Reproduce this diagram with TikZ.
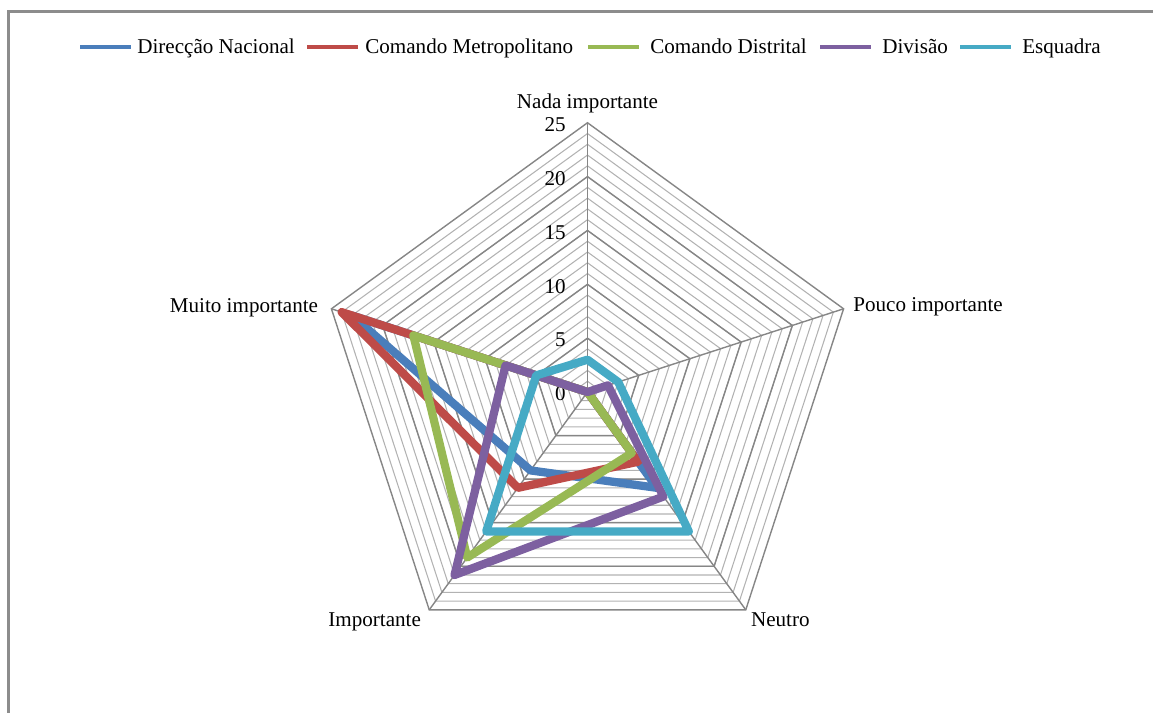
\documentclass[tikz,border=0pt]{standalone}
\usepackage{fontspec}
\setmainfont{Liberation Serif}
\usepackage{tikz}
\usetikzlibrary{calc,positioning}

\definecolor{dirnac}{HTML}{4A7EBB}
\definecolor{cmdmet}{HTML}{BE4B48}
\definecolor{cmddis}{HTML}{98B954}
\definecolor{divis}{HTML}{7D60A0}
\definecolor{esquad}{HTML}{46AAC5}
\definecolor{gridlight}{HTML}{B2B2B2}
\definecolor{griddark}{HTML}{868686}
\definecolor{framegray}{HTML}{8C8C8C}

\begin{document}
\begin{tikzpicture}[x=0.02cm,y=0.02cm,font=\fontsize{12}{14}\selectfont,
  gridthin/.style={draw=gridlight,line width=0.6pt},
  gridthick/.style={draw=griddark,line width=0.8pt},
  serie/.style={line width=4.7pt,line join=round},
  legline/.style={line width=2.3pt},
  legtext/.style={anchor=base west,inner sep=0pt}]
\useasboundingbox (0,-713) rectangle (1153,0);
\draw[framegray,line width=1.7pt] (8.5,-713) |- (1153,-11.5);

% legend
\foreach \x/\tx/\c/\t [count=\n] in {80/137/dirnac/Direcção Nacional,
    307/365/cmdmet/Comando Metropolitano, 588/650/cmddis/Comando Distrital,
    820/882/divis/Divisão, 960/1022/esquad/Esquadra}{
  \draw[legline,\c] (\x,-47) coordinate (leg\n) -- ++(51,0);
  \node[legtext] (legtext\n) at (\tx,-54) {\t};
}

% radar
\def\unit{10.77}
\pgfmathsetmacro\R{25*\unit}
\begin{scope}[shift={(587.5,-392)}]
\coordinate (O) at (0,0);
\coordinate (nada) at (90:\R);
\coordinate (pouco) at (18:\R);
\coordinate (neutro) at (-54:\R);
\coordinate (imp) at (-126:\R);
\coordinate (muito) at (162:\R);

\foreach \k in {1,...,24}{
  \pgfmathsetmacro\r{\k*\unit}
  \draw[gridthin] (90:\r) -- (18:\r) -- (-54:\r) -- (-126:\r) -- (162:\r) -- cycle;
}
\foreach \k in {5,10,...,25}{
  \pgfmathsetmacro\r{\k*\unit}
  \draw[gridthick] (90:\r) -- (18:\r) -- (-54:\r) -- (-126:\r) -- (162:\r) -- cycle;
}
\foreach \p in {nada,pouco,neutro,imp,muito}
  \draw[gridthick] (O) -- (\p);

% scale
\foreach \v in {0,5,...,25}
  \node[anchor=east,inner sep=0pt] at (-21.5,{\v*\unit-2}) {\v};

% axis names
\node[above=5.5pt of nada,inner sep=0pt] {Nada importante};
\node[anchor=base west,inner sep=0pt] at ($(pouco)+(9.5,-3)$) {Pouco importante};
\node[anchor=base west,inner sep=0pt] at ($(neutro)+(5,-17)$) {Neutro};
\node[anchor=base east,inner sep=0pt] at ($(imp)+(-8,-17)$) {Importante};
\node[anchor=base east,inner sep=0pt] at ($(muito)+(-13,-4)$) {Muito importante};

% series
\foreach \c/\a/\b/\d/\e/\f in {dirnac/0/0/11/9/23, cmdmet/0/0/8/11/24,
    cmddis/0/0/7/19/17, divis/0/2/12/21/8, esquad/3/3/16/16/5}
  \draw[serie,\c] (90:{\a*\unit}) -- (18:{\b*\unit}) -- (-54:{\d*\unit})
    -- (-126:{\e*\unit}) -- (162:{\f*\unit}) -- cycle;
\end{scope}
\end{tikzpicture}
\end{document}
